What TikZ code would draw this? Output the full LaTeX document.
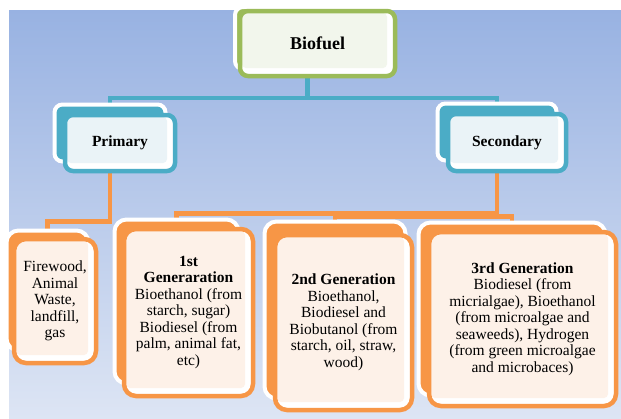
\documentclass[tikz,border=0pt]{standalone}
\usepackage{fontspec}
\setmainfont{Liberation Serif}
\usepackage{tikz}
\usetikzlibrary{backgrounds}
\definecolor{bfgreen}{HTML}{9BBB59}
\definecolor{bfgreenL}{HTML}{F2F6EC}
\definecolor{bfteal}{HTML}{4BACC6}
\definecolor{bftealL}{HTML}{EAF3F7}
\definecolor{bforange}{HTML}{F79646}
\definecolor{bforangeL}{HTML}{FDF1E8}
\definecolor{bgtop}{HTML}{98B2E2}
\definecolor{bgbot}{HTML}{DDE5F4}
\tikzstyle{txt}=[font=\fontsize{15.5}{16.5}\selectfont]
\tikzstyle{head}=[font=\fontsize{15.5}{16.5}\selectfont\bfseries]
\tikzstyle{back}=[draw=white,line width=4pt,inner sep=0pt]
\tikzstyle{front}=[line width=4.5pt,inner sep=0pt,align=center,fill=white,txt]
\tikzstyle{teal link}=[draw=bfteal,line width=4.5pt]
\tikzstyle{orange link}=[draw=bforange,line width=4.5pt]
\tikzset{inner/.style={path picture={\fill[#1,rounded corners=4pt]
  ([shift={(2pt,-2pt)}]path picture bounding box.north west) rectangle
  ([shift={(-8pt,8pt)}]path picture bounding box.south east);}},
  sz/.style 2 args={minimum width=#1pt,minimum height=#2pt}}

\begin{document}
\begin{tikzpicture}[x=1pt,y=-1pt]
\useasboundingbox (0,0) rectangle (621,418);
\begin{scope}[on background layer]
\shade[top color=bgtop,bottom color=bgbot] (9,10) rectangle (621,418);
\end{scope}

\node[back,fill=bfgreen,rounded corners=8pt,sz={145}{62}] (biofuel-sh) at (307.5,38) {};
\node[front,draw=bfgreen,inner=bfgreenL,rounded corners=8pt,sz={155}{65},
  font=\fontsize{18}{20}\selectfont\bfseries] (biofuel) at (317.5,43.5) {Biofuel};

\node[back,fill=bfteal,rounded corners=8pt,sz={111}{57}] (primary-sh) at (110,133) {};
\node[front,draw=bfteal,inner=bftealL,rounded corners=8pt,sz={110}{56},head]
  (primary) at (120,143) {Primary};
\node[back,fill=bfteal,rounded corners=8pt,sz={119}{57}] (secondary-sh) at (497,132) {};
\node[front,draw=bfteal,inner=bftealL,rounded corners=8pt,sz={118}{57},head]
  (secondary) at (507,142.5) {Secondary};

\node[back,fill=bforange,rounded corners=12pt,sz={82}{120}] (firewood-sh) at (47.5,290.5) {};
\node[front,draw=bforange,inner=bforangeL,rounded corners=12pt,sz={82}{124}]
  (firewood) at (55,301) {Firewood,\\Animal\\Waste,\\landfill,\\gas};
\node[back,fill=bforange,rounded corners=12pt,sz={124}{164}] (gen1-sh) at (176.5,301.5) {};
\node[front,draw=bforange,inner=bforangeL,rounded corners=12pt,sz={129}{167}]
  (gen1) at (188.5,312.5) {\textbf{1st}\\\textbf{Generaration}\\Bioethanol (from\\starch, sugar)\\
  Biodiesel (from\\palm, animal fat,\\etc)};
\node[back,fill=bforange,rounded corners=12pt,sz={141}{177}] (gen2-sh) at (335,310) {};
\node[front,draw=bforange,inner=bforangeL,rounded corners=12pt,sz={137}{175}]
  (gen2) at (343.5,322.5) {\textbf{2nd Generation}\\Bioethanol,\\Biodiesel and\\
  Biobutanol (from\\starch, oil, straw,\\wood)};
\node[back,fill=bforange,rounded corners=12pt,sz={187}{173}] (gen3-sh) at (512,309) {};
\node[front,draw=bforange,inner=bforangeL,rounded corners=12pt,sz={187}{174}]
  (gen3) at (522.5,319) {\textbf{3rd Generation}\\Biodiesel (from\\micrialgae), Bioethanol\\
  (from microalgae and\\seaweeds), Hydrogen\\(from green microalgae\\and microbaces)};

\begin{scope}[on background layer]
\draw[teal link] (biofuel-sh.south) -- ++(0,27) -| (primary-sh.north);
\draw[teal link] (biofuel-sh.south) -- ++(0,27) -| (secondary-sh.north);
\draw[orange link] (primary-sh.south) -- ++(0,58) -| (firewood-sh.north);
\draw[orange link] (secondary-sh.south) -- ++(0,51) -| (gen1-sh.north);
\draw[orange link] (secondary-sh.south) -- ++(0,54) -| (gen2-sh.north);
\draw[orange link] (secondary-sh.south) -- ++(0,54) -| (gen3-sh.north);
\end{scope}
\end{tikzpicture}
\end{document}
